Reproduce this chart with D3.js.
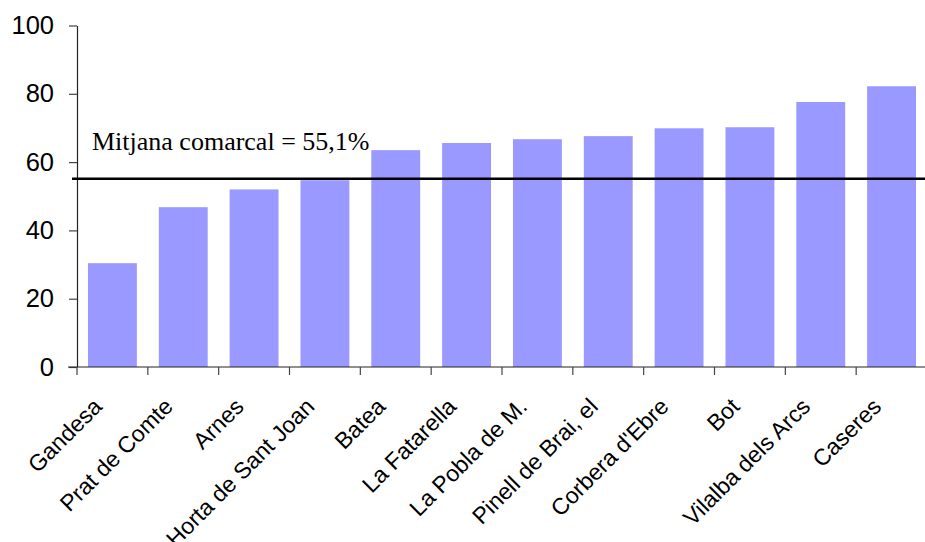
<!DOCTYPE html>
<html>
<head>
<meta charset="utf-8">
<script src="https://cdn.jsdelivr.net/npm/d3@7"></script>
<style>
  html, body { margin: 0; padding: 0; background: #fff; }
  svg { display: block; }
</style>
</head>
<body>
<svg id="chart" width="925" height="542"></svg>
<script>
// Municipalities, ordered by value
const municipis = [
  "Gandesa", "Prat de Comte", "Arnes", "Horta de Sant Joan", "Batea",
  "La Fatarella", "La Pobla de M.", "Pinell de Brai, el", "Corbera d'Ebre",
  "Bot", "Vilalba dels Arcs", "Caseres"
];
// Percentage per municipality
const valors = [30.4, 46.8, 52.0, 54.7, 63.5, 65.6, 66.7, 67.6, 69.9, 70.2, 77.6, 82.2];
// County average
const mitjanaComarcal = 55.1;
const mitjanaText = "Mitjana comarcal = 55,1%";
// Y axis ticks
const yTicks = [0, 20, 40, 60, 80, 100];

const svg = d3.select("#chart");

const x = d3.scaleBand()
  .domain(municipis)
  .range([77, 927])
  .paddingInner(0.31)
  .paddingOuter(0.155);

const y = d3.scaleLinear()
  .domain([0, 100])
  .range([367, 25.5]);

// Bars
svg.append("g")
  .selectAll("rect")
  .data(valors)
  .join("rect")
  .attr("x", (d, i) => x(municipis[i]))
  .attr("y", d => y(d))
  .attr("width", x.bandwidth())
  .attr("height", d => y(0) - y(d))
  .attr("fill", "#9999ff");

// Y axis
const yAxis = svg.append("g")
  .attr("transform", "translate(77,0)")
  .call(d3.axisLeft(y).tickValues(yTicks).tickSize(8).tickPadding(15).tickSizeOuter(0));
yAxis.select(".domain").attr("stroke", "#222").attr("stroke-width", 1.2);
yAxis.selectAll(".tick line").attr("stroke", "#444").attr("stroke-width", 1.2);
yAxis.selectAll("text")
  .attr("font-family", "'Liberation Sans', Arial, sans-serif")
  .attr("font-size", 25.5)
  .attr("fill", "#000");

// X axis: ticks on band boundaries
const bounds = municipis.map(m => x(m) - x.step() * x.paddingInner() / 2);
const xg = svg.append("g");
xg.append("line")
  .attr("x1", 68).attr("x2", 927)
  .attr("y1", y(0)).attr("y2", y(0))
  .attr("stroke", "#222").attr("stroke-width", 1.2);
xg.selectAll("line.tk")
  .data(bounds)
  .join("line")
  .attr("class", "tk")
  .attr("x1", d => d).attr("x2", d => d)
  .attr("y1", y(0)).attr("y2", y(0) + 8)
  .attr("stroke", "#444").attr("stroke-width", 1.2);

// Category labels, rotated
xg.selectAll("text")
  .data(municipis)
  .join("text")
  .attr("transform", d => `translate(${x(d) + x.bandwidth() / 2 - 9},${y(0) + 41}) rotate(-45)`)
  .attr("text-anchor", "end")
  .attr("font-family", "'Liberation Sans', Arial, sans-serif")
  .attr("font-size", 23)
  .attr("fill", "#000")
  .text(d => d);

// County average line
svg.append("line")
  .attr("x1", 72).attr("x2", 925)
  .attr("y1", y(mitjanaComarcal)).attr("y2", y(mitjanaComarcal))
  .attr("stroke", "#000").attr("stroke-width", 2.5);

svg.append("text")
  .attr("x", 92).attr("y", 150)
  .attr("font-family", "'Liberation Serif', 'Times New Roman', serif")
  .attr("font-size", 26)
  .attr("fill", "#000")
  .text(mitjanaText);
</script>
</body>
</html>
